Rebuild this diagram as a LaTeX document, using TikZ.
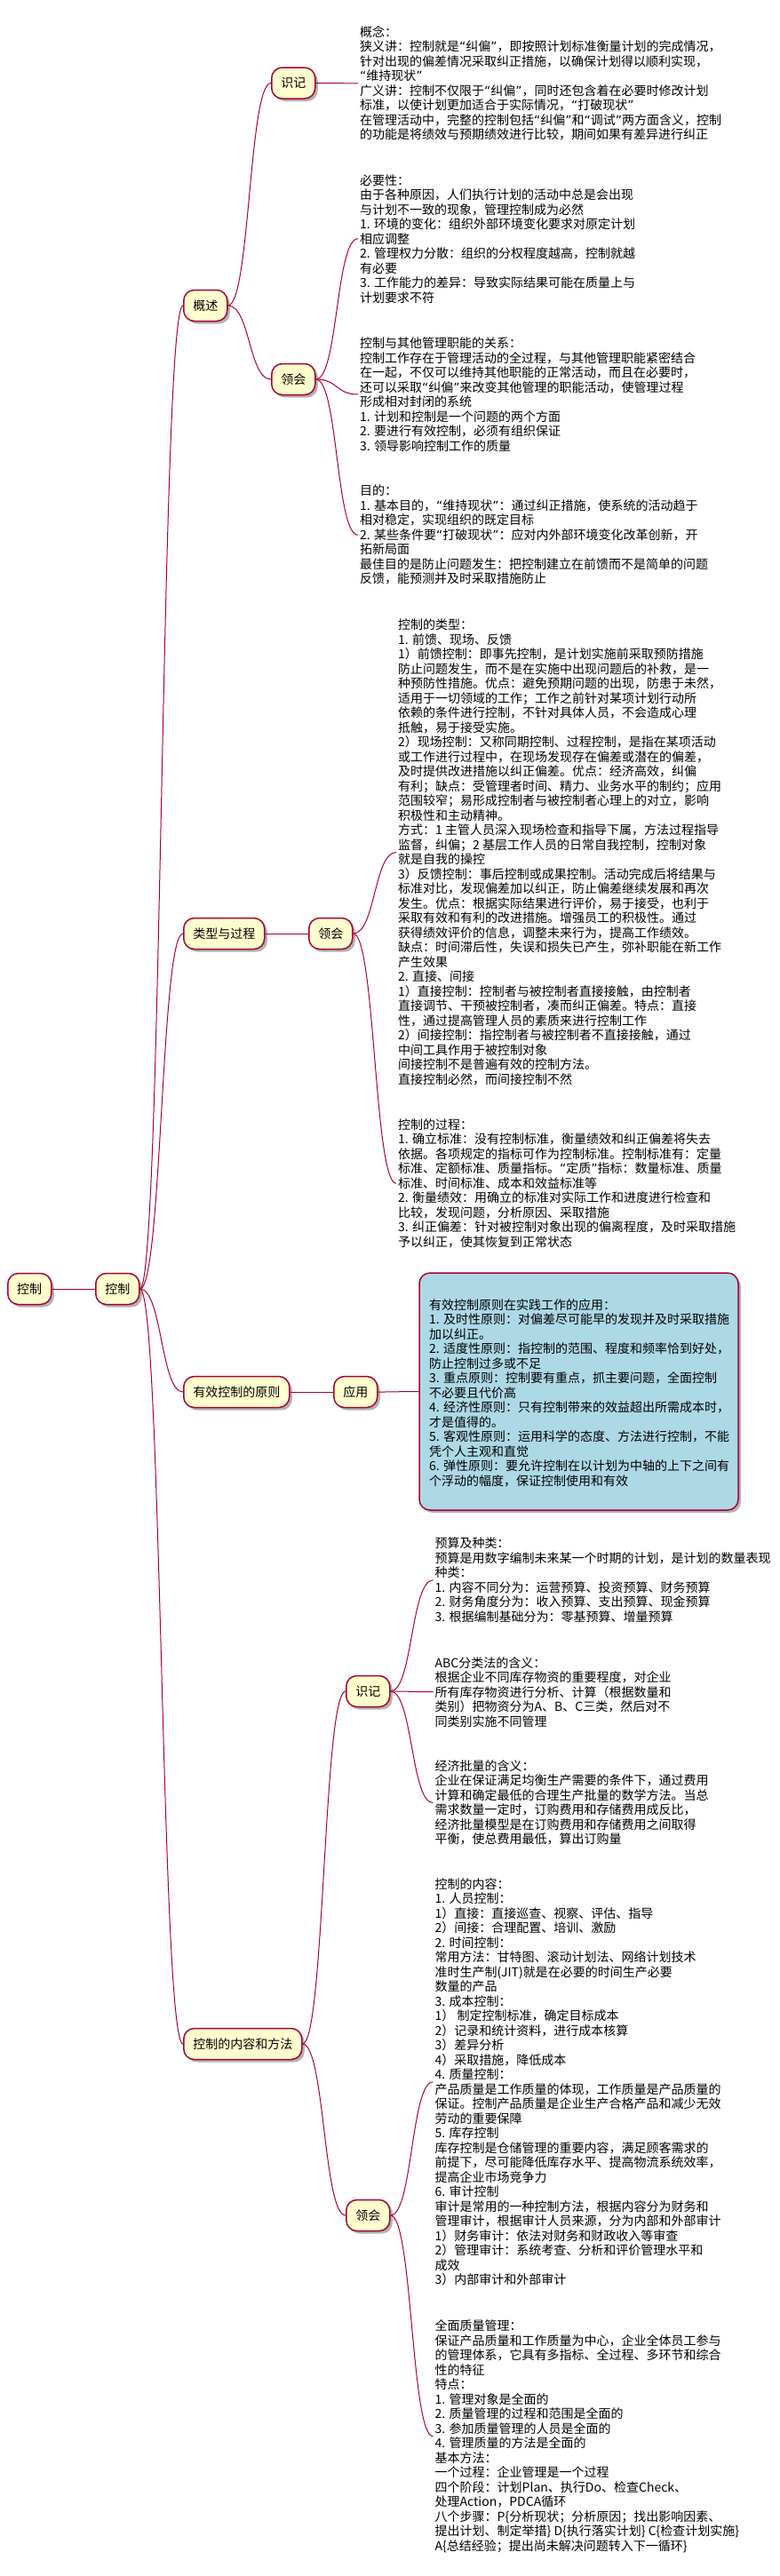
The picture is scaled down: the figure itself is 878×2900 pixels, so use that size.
\documentclass[tikz,border=0pt]{standalone}
\usepackage{fontspec}
\setmainfont{Noto Sans CJK SC}
\newfontfamily\qfont{DejaVu Sans}
\usetikzlibrary{shadows}
\definecolor{pr}{HTML}{A80036}
\definecolor{pf}{HTML}{FEFECE}
\definecolor{pb}{HTML}{ADD8E6}
\newcommand{\fs}{\fontsize{14pt}{16.5pt}\selectfont}
\newcommand{\oq}{{\qfont “}}
\newcommand{\cq}{{\qfont ”}}
\begin{document}
\begin{tikzpicture}[x=1pt,y=-1pt,
  mm/.style={draw=pr, fill=pf, line width=1.5pt, rounded corners=12pt, minimum height=35pt,
    inner xsep=10.5pt, inner ysep=0pt, anchor=west, font=\fs,
    drop shadow={shadow xshift=3pt,shadow yshift=-3pt,opacity=0.3,fill=black}},
  txt/.style={anchor=west, align=left, inner xsep=2pt, inner ysep=0pt, font=\fs},
  conn/.style={draw=pr, line width=1pt}]
\useasboundingbox (0,0) rectangle (878,2900);

% tree nodes
\node[mm] (c0) at (8,1451) {控制};
\node[mm] (c1) at (107,1451) {控制};
\node[mm] (gs) at (206,344) {概述};
\node[mm] (lx) at (206,1051) {类型与过程};
\node[mm] (yx) at (206,1567) {有效控制的原则};
\node[mm] (nr) at (206,2301) {控制的内容和方法};
\node[mm] (sj1) at (305,93.5) {识记};
\node[mm] (lh1) at (305,427) {领会};
\node[mm] (lh2) at (347,1051) {领会};
\node[mm] (yy) at (375,1567) {应用};
\node[mm] (sj2) at (389,1904) {识记};
\node[mm] (lh3) at (389,2494) {领会};

% text nodes
\node[txt] (ta) at (403,93.8) {概念：\\
狭义讲：控制就是\oq 纠偏\cq ，即按照计划标准衡量计划的完成情况，\\
针对出现的偏差情况采取纠正措施，以确保计划得以顺利实现，\\
\oq 维持现状\cq \\
广义讲：控制不仅限于\oq 纠偏\cq ，同时还包含着在必要时修改计划\\
标准，以使计划更加适合于实际情况，\oq 打破现状\cq \\
在管理活动中，完整的控制包括\oq 纠偏\cq 和\oq 调试\cq 两方面含义，控制\\
的功能是将绩效与预期绩效进行比较，期间如果有差异进行纠正};

\node[txt] (tb) at (403,268.7) {必要性：\\
由于各种原因，人们执行计划的活动中总是会出现\\
与计划不一致的现象，管理控制成为必然\\
1. 环境的变化：组织外部环境变化要求对原定计划\\
相应调整\\
2. 管理权力分散：组织的分权程度越高，控制就越\\
有必要\\
3. 工作能力的差异：导致实际结果可能在质量上与\\
计划要求不符};

\node[txt] (tc) at (403,444) {控制与其他管理职能的关系：\\
控制工作存在于管理活动的全过程，与其他管理职能紧密结合\\
在一起，不仅可以维持其他职能的正常活动，而且在必要时，\\
还可以采取\oq 纠偏\cq 来改变其他管理的职能活动，使管理过程\\
形成相对封闭的系统\\
1. 计划和控制是一个问题的两个方面\\
2. 要进行有效控制，必须有组织保证\\
3. 领导影响控制工作的质量};

\node[txt] (td) at (403,602.3) {目的：\\
1. 基本目的，\oq 维持现状\cq ：通过纠正措施，使系统的活动趋于\\
相对稳定，实现组织的既定目标\\
2. 某些条件要\oq 打破现状\cq ：应对内外部环境变化改革创新，开\\
拓新局面\\
最佳目的是防止问题发生：把控制建立在前馈而不是简单的问题\\
反馈，能预测并及时采取措施防止};

\node[txt] (t1) at (446,959.5) {控制的类型：\\
1. 前馈、现场、反馈\\
1）前馈控制：即事先控制，是计划实施前采取预防措施\\
防止问题发生，而不是在实施中出现问题后的补救，是一\\
种预防性措施。优点：避免预期问题的出现，防患于未然，\\
适用于一切领域的工作；工作之前针对某项计划行动所\\
依赖的条件进行控制，不针对具体人员，不会造成心理\\
抵触，易于接受实施。\\
2）现场控制：又称同期控制、过程控制，是指在某项活动\\
或工作进行过程中，在现场发现存在偏差或潜在的偏差，\\
及时提供改进措施以纠正偏差。优点：经济高效，纠偏\\
有利；缺点：受管理者时间、精力、业务水平的制约；应用\\
范围较窄；易形成控制者与被控制者心理上的对立，影响\\
积极性和主动精神。\\
方式：1 主管人员深入现场检查和指导下属，方法过程指导\\
监督，纠偏；2 基层工作人员的日常自我控制，控制对象\\
就是自我的操控\\
3）反馈控制：事后控制或成果控制。活动完成后将结果与\\
标准对比，发现偏差加以纠正，防止偏差继续发展和再次\\
发生。优点：根据实际结果进行评价，易于接受，也利于\\
采取有效和有利的改进措施。增强员工的积极性。通过\\
获得绩效评价的信息，调整未来行为，提高工作绩效。\\
缺点：时间滞后性，失误和损失已产生，弥补职能在新工作\\
产生效果\\
2. 直接、间接\\
1）直接控制：控制者与被控制者直接接触，由控制者\\
直接调节、干预被控制者，凑而纠正偏差。特点：直接\\
性，通过提高管理人员的素质来进行控制工作\\
2）间接控制：指控制者与被控制者不直接接触，通过\\
中间工具作用于被控制对象\\
间接控制不是普遍有效的控制方法。\\
直接控制必然，而间接控制不然};

\node[txt] (t2) at (446,1332.2) {控制的过程：\\
1. 确立标准：没有控制标准，衡量绩效和纠正偏差将失去\\
依据。各项规定的指标可作为控制标准。控制标准有：定量\\
标准、定额标准、质量指标。\oq 定质\cq 指标：数量标准、质量\\
标准、时间标准、成本和效益标准等\\
2. 衡量绩效：用确立的标准对实际工作和进度进行检查和\\
比较，发现问题，分析原因、采取措施\\
3. 纠正偏差：针对被控制对象出现的偏离程度，及时采取措施\\
予以纠正，使其恢复到正常状态};

\node[draw=pr, fill=pb, line width=1.5pt, rounded corners=12pt, minimum width=359pt,
  minimum height=267pt, inner sep=0pt,
  drop shadow={shadow xshift=3pt,shadow yshift=-3pt,opacity=0.3,fill=black}] (app) at (651.5,1566.5) {};
\node[txt] (apptxt) at (481,1568) {有效控制原则在实践工作的应用：\\
1. 及时性原则：对偏差尽可能早的发现并及时采取措施\\
加以纠正。\\
2. 适度性原则：指控制的范围、程度和频率恰到好处，\\
防止控制过多或不足\\
3. 重点原则：控制要有重点，抓主要问题，全面控制\\
不必要且代价高\\
4. 经济性原则：只有控制带来的效益超出所需成本时，\\
才是值得的。\\
5. 客观性原则：运用科学的态度、方法进行控制，不能\\
凭个人主观和直觉\\
6. 弹性原则：要允许控制在以计划为中轴的上下之间有\\
个浮动的幅度，保证控制使用和有效};

\node[txt] (te) at (487.5,1778.8) {预算及种类：\\
预算是用数字编制未来某一个时期的计划，是计划的数量表现\\
种类：\\
1. 内容不同分为：运营预算、投资预算、财务预算\\
2. 财务角度分为：收入预算、支出预算、现金预算\\
3. 根据编制基础分为：零基预算、增量预算};

\node[txt] (tf) at (487.5,1904.7) {ABC分类法的含义：\\
根据企业不同库存物资的重要程度，对企业\\
所有库存物资进行分析、计算（根据数量和\\
类别）把物资分为A、B、C三类，然后对不\\
同类别实施不同管理};

\node[txt] (tg) at (487.5,2029.5) {经济批量的含义：\\
企业在保证满足均衡生产需要的条件下，通过费用\\
计算和确定最低的合理生产批量的数学方法。当总\\
需求数量一定时，订购费用和存储费用成反比，\\
经济批量模型是在订购费用和存储费用之间取得\\
平衡，使总费用最低，算出订购量};

\node[txt] (th) at (487.5,2343.8) {控制的内容：\\
1. 人员控制：\\
1）直接：直接巡查、视察、评估、指导\\
2）间接：合理配置、培训、激励\\
2. 时间控制：\\
常用方法：甘特图、滚动计划法、网络计划技术\\
准时生产制(JIT)就是在必要的时间生产必要\\
数量的产品\\
3. 成本控制：\\
1） 制定控制标准，确定目标成本\\
2）记录和统计资料，进行成本核算\\
3）差异分析\\
4）采取措施，降低成本\\
4. 质量控制：\\
产品质量是工作质量的体现，工作质量是产品质量的\\
保证。控制产品质量是企业生产合格产品和减少无效\\
劳动的重要保障\\
5. 库存控制\\
库存控制是仓储管理的重要内容，满足顾客需求的\\
前提下，尽可能降低库存水平、提高物流系统效率，\\
提高企业市场竞争力\\
6. 审计控制\\
审计是常用的一种控制方法，根据内容分为财务和\\
管理审计，根据审计人员来源，分为内部和外部审计\\
1）财务审计：依法对财务和财政收入等审查\\
2）管理审计：系统考查、分析和评价管理水平和\\
成效\\
3）内部审计和外部审计};

\node[txt] (ti) at (487.5,2742.8) {全面质量管理：\\
保证产品质量和工作质量为中心，企业全体员工参与\\
的管理体系，它具有多指标、全过程、多环节和综合\\
性的特征\\
特点：\\
1. 管理对象是全面的\\
2. 质量管理的过程和范围是全面的\\
3. 参加质量管理的人员是全面的\\
4. 管理质量的方法是全面的\\
基本方法：\\
一个过程：企业管理是一个过程\\
四个阶段：计划Plan、执行Do、检查Check、\\
处理Action，PDCA循环\\
八个步骤：P\{分析现状；分析原因；找出影响因素、\\
提出计划、制定举措\} D\{执行落实计划\} C\{检查计划实施\}\\
A\{总结经验；提出尚未解决问题转入下一循环\}};

% connectors
\foreach \a/\b in {c0/c1, c1/gs, c1/lx, c1/yx, c1/nr, gs/sj1, gs/lh1, sj1/ta, lh1/tb, lh1/tc, lh1/td,
  lx/lh2, lh2/t1, lh2/t2, yx/yy, yy/app, nr/sj2, nr/lh3, sj2/te, sj2/tf, sj2/tg, lh3/th, lh3/ti}
  \draw[conn] (\a.east) .. controls +(25,0) and +(-25,0) .. (\b.west);
\end{tikzpicture}
\end{document}
